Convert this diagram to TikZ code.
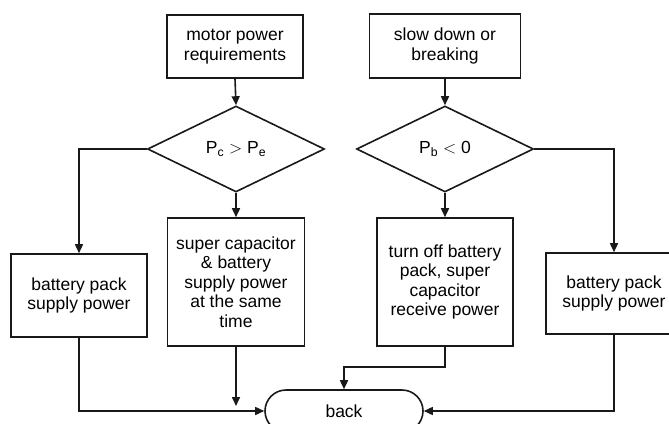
\documentclass[tikz,border=0pt]{standalone}
\usepackage{fontspec}
\setmainfont{Liberation Sans}
\usetikzlibrary{shapes.geometric,shapes.misc,arrows.meta}
\begin{document}
\begin{tikzpicture}[x=1pt,y=-1pt,
  txt/.style={align=center, inner sep=0pt, font=\fontsize{17.5}{19.5}\selectfont, text=black},
  procbox/.style={txt, draw=black!90, line width=1.6pt},
  decision/.style={txt, diamond, draw=black!90, line width=1.6pt},
  terminal/.style={txt, rounded rectangle, draw=black!90, line width=1.6pt},
  conn/.style={draw=black!90, line width=1.6pt, -{Triangle[length=9pt,width=8pt]}}]
\useasboundingbox (0,0) rectangle (669,423);
\clip (0,0) rectangle (669,423);
\fill[white] (0,0) rectangle (669,423);

\node[procbox, minimum width=136pt, minimum height=63pt] (m) at (235,46.5) {motor power\\requirements};
\node[procbox, minimum width=151pt, minimum height=64pt] (s) at (445,46) {slow down or\\breaking};
\node[decision, minimum width=177pt, minimum height=86pt] (d1) at (236,149) {P\textsubscript{c} $>$ P\textsubscript{e}};
\node[decision, minimum width=177pt, minimum height=86pt] (d2) at (445,149) {P\textsubscript{b} $<$ 0};
\node[procbox, minimum width=136pt, minimum height=83pt] (b1) at (79,295.5) {battery pack\\supply power};
\node[procbox, minimum width=137pt, minimum height=128pt] (sc) at (236,282) {super capacitor\\\& battery\\supply power\\at the same\\time};
\node[procbox, minimum width=136pt, minimum height=128pt] (to) at (445,282) {turn off battery\\pack, super\\capacitor\\receive power};
\node[procbox, minimum width=136pt, minimum height=81pt] (b2) at (614,293.5) {battery pack\\supply power};
\node[terminal, minimum width=158pt, minimum height=42pt] (back) at (344,411) {back};

\coordinate (midtip) at (236,406);
\coordinate (tobend) at (445,367);

\draw[conn] (m.south) -- (d1.north);
\draw[conn] (s.south) -- (d2.north);
\draw[conn] (d1.west) -| (b1.north);
\draw[conn] (d1.south) -- (sc.north);
\draw[conn] (d2.south) -- (to.north);
\draw[conn] (d2.east) -| (b2.north);
\draw[conn] (b1.south) |- (back.west);
\draw[conn] (sc.south) -- (midtip);
\draw[conn] (to.south) -- (tobend) -| (back.north);
\draw[conn] (b2.south) |- (back.east);
\end{tikzpicture}
\end{document}
